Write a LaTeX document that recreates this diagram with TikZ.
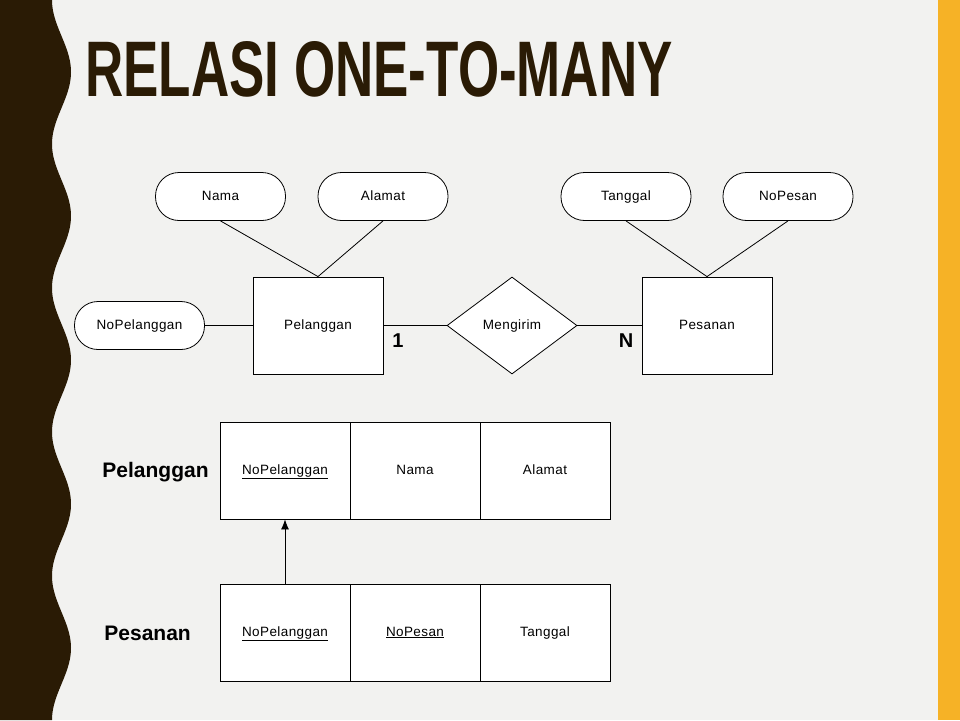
\documentclass[tikz,border=0pt]{standalone}
\usepackage{fontspec}
\usepackage{graphicx}
\setmainfont{Liberation Sans}
\newfontfamily\erfont[LetterSpace=3]{Liberation Sans}
\usetikzlibrary{shapes.geometric,arrows.meta}
\definecolor{bgc}{RGB}{242,242,240}
\definecolor{bandc}{RGB}{42,27,5}
\definecolor{yelc}{RGB}{246,178,38}
\tikzset{
  erfnt/.style={font=\erfont\fontsize{13.5}{16}\selectfont},
  attr/.style={draw, fill=white, rounded corners=23.5pt, minimum width=130pt, minimum height=48pt, inner sep=0pt, erfnt, text height=9.5pt, text depth=2.5pt},
  ent/.style={draw, fill=white, minimum width=130pt, minimum height=97pt, inner sep=0pt, erfnt, text height=9.5pt, text depth=2.5pt},
  rel/.style={draw, fill=white, diamond, aspect=1.34, minimum width=130pt, minimum height=97pt, inner sep=0pt, erfnt, text height=9.5pt, text depth=2.5pt},
  cell/.style={draw, fill=white, minimum width=130pt, minimum height=97pt, inner sep=0pt, erfnt, text height=9.5pt, text depth=2.5pt},
  card/.style={inner sep=0pt, font=\fontsize{20}{24}\selectfont\bfseries},
  tlabel/.style={inner sep=0pt, anchor=base west, font=\fontsize{21}{24}\selectfont\bfseries},
  conn/.style={line width=0.8pt},
}
\begin{document}
\begin{tikzpicture}[x=1pt,y=-1pt, line width=0.8pt]
\useasboundingbox (0,0) rectangle (960,720);
\fill[bgc] (0,0) rectangle (960,720);
\fill[bandc] (0,0) -- plot[domain=0:720,samples=240,smooth] ({61.5-9.5*cos(2.5*\x)},\x) -- (0,720) -- cycle;
\fill[yelc] (938,0) rectangle (960,720);

\node[anchor=north west, inner sep=0pt, text=bandc] (title) at (85,41)
  {\resizebox{587pt}{55pt}{\bfseries RELASI ONE-TO-MANY}};

% ER diagram
\node[attr] (nama) at (220.5,196.5) {Nama};
\node[attr] (alamat) at (383,196.5) {Alamat};
\node[attr] (nopel) at (139.5,325.5) {NoPelanggan};
\node[ent] (pel) at (318,325.5) {Pelanggan};
\node[rel] (meng) at (512,325.5) {Mengirim};
\node[ent] (pes) at (707,325.5) {Pesanan};
\node[attr] (tgl) at (626,196.5) {Tanggal};
\node[attr] (nopes) at (788,196.5) {NoPesan};

\draw[conn] (nama.south) -- (pel.north);
\draw[conn] (alamat.south) -- (pel.north);
\draw[conn] (nopel.east) -- (pel.west);
\draw[conn] (pel.east) -- (meng.west);
\draw[conn] (meng.east) -- (pes.west);
\draw[conn] (tgl.south) -- (pes.north);
\draw[conn] (nopes.south) -- (pes.north);

\node[card] (one) at (398,341) {1};
\node[card] (many) at (626,341) {N};

% Relational tables
\node[tlabel] (tpel) at (102,477) {Pelanggan};
\node[cell] (p1) at (285,470.5) {\underline{NoPelanggan}};
\node[cell] (p2) at (415,470.5) {Nama};
\node[cell] (p3) at (545,470.5) {Alamat};

\node[tlabel] (tpes) at (104,640) {Pesanan};
\node[cell] (q1) at (285,632.5) {\underline{NoPelanggan}};
\node[cell] (q2) at (415,632.5) {\underline{NoPesan}};
\node[cell] (q3) at (545,632.5) {Tanggal};

\draw[conn, -{Latex[length=10pt,width=8pt]}] (q1.north) -- (p1.south);
\end{tikzpicture}
\end{document}
